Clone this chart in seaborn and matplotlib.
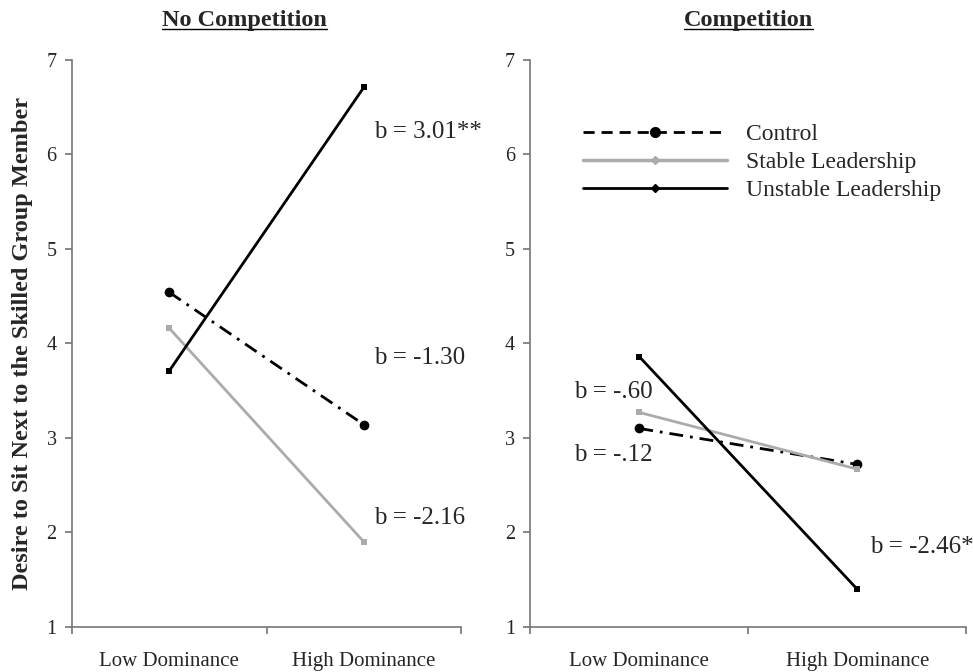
import numpy as np
import pandas as pd
import matplotlib
matplotlib.use("Agg")
import matplotlib.pyplot as plt
import seaborn as sns
from matplotlib.lines import Line2D

panels = ["No Competition", "Competition"]
levels = ["Low Dominance", "High Dominance"]
conditions = ["Control", "Stable Leadership", "Unstable Leadership"]

# values: [low, high]
no_comp_control = [4.54, 3.14]
no_comp_stable = [4.16, 1.90]
no_comp_unstable = [3.71, 6.71]
comp_control = [3.10, 2.72]
comp_stable = [3.27, 2.67]
comp_unstable = [3.86, 1.40]

slope_labels = {
    "No Competition": [("b = 3.01**", 1.55, 6.24), ("b = -1.30", 1.55, 3.85), ("b = -2.16", 1.55, 2.15)],
    "Competition": [("b = -.60", 0.20, 3.49), ("b = -.12", 0.20, 2.82), ("b = -2.46*", 1.56, 1.85)],
}

rows = []
for panel, vals in zip(panels, [[no_comp_control, no_comp_stable, no_comp_unstable],
                                [comp_control, comp_stable, comp_unstable]]):
    for cond, v in zip(conditions, vals):
        for i, lvl in enumerate(levels):
            rows.append({"panel": panel, "cond": cond, "level": lvl, "pos": i + 0.5, "value": v[i]})
df = pd.DataFrame(rows)

sns.set_theme(style="white")
plt.rcParams["font.family"] = ["Liberation Serif", "DejaVu Serif"]

palette = {"Control": "black", "Stable Leadership": "#ababab", "Unstable Leadership": "black"}
dashes = {"Control": (5, 2.5, 1, 2.5), "Stable Leadership": "", "Unstable Leadership": ""}
markers = {"Control": "o", "Stable Leadership": "s", "Unstable Leadership": "s"}

fig = plt.figure(figsize=(9.73, 6.72), dpi=100)
ax1 = fig.add_axes([0.074, 0.067, 0.40, 0.844])
ax2 = fig.add_axes([0.545, 0.067, 0.448, 0.844])

for ax, panel in zip([ax1, ax2], panels):
    sub = df[df.panel == panel]
    for cond in conditions:
        d = sub[sub.cond == cond]
        sns.lineplot(data=d, x="pos", y="value", color=palette[cond], linewidth=2,
                     marker=markers[cond], markersize=7 if cond == "Control" else 4.5,
                     markeredgewidth=0, dashes=False, ax=ax, legend=False)
        if dashes[cond]:
            ax.lines[-1].set_dashes(dashes[cond])
    ax.set_xlim(0, 2)
    ax.set_ylim(1, 7)
    ax.set_yticks(range(1, 8))
    ax.set_xticks([0, 1, 2])
    ax.set_xticklabels([])
    ax.set_xticks([0.5, 1.5], minor=True)
    ax.set_xticklabels(levels, minor=True, fontsize=15)
    ax.tick_params(axis="x", which="minor", length=0, pad=18)
    ax.tick_params(axis="x", which="major", direction="out", length=5, color="#777777", bottom=True)
    ax.tick_params(axis="y", direction="out", length=5, color="#777777", left=True, labelsize=14.5, pad=6)
    ax.set_xlabel("")
    ax.set_ylabel("")
    for s in ["top", "right"]:
        ax.spines[s].set_visible(False)
    for s in ["left", "bottom"]:
        ax.spines[s].set_color("#777777")
        ax.spines[s].set_linewidth(1.2)
    for txt, x, y in slope_labels[panel]:
        ax.text(x, y, txt, fontsize=18, va="center", ha="left")

ax1.set_ylabel("Desire to Sit Next to the Skilled Group Member", fontsize=17.5, fontweight="bold", labelpad=10)

# titles with underline
fig.canvas.draw()
renderer = fig.canvas.get_renderer()
for cx, panel in zip([0.251, 0.769], panels):
    t = fig.text(cx, 0.970, panel, ha="center", va="center", fontsize=17.5, fontweight="bold")
    bb = t.get_window_extent(renderer).transformed(fig.transFigure.inverted())
    fig.add_artist(Line2D([bb.x0, bb.x1], [bb.y0 + 0.002, bb.y0 + 0.002], color="black", linewidth=1))

handles = [
    Line2D([], [], color="black", linewidth=2, dashes=(4, 2.5), marker="o", markersize=7, markevery=[0, -1]),
    Line2D([], [], color="#ababab", linewidth=2.5, marker="D", markersize=4.5, markevery=[0, -1]),
    Line2D([], [], color="black", linewidth=2, marker="D", markersize=4.5, markevery=[0, -1]),
]
ax2.legend(handles, conditions, loc="upper left", bbox_to_anchor=(0.12, 0.888), frameon=False,
           fontsize=17, handlelength=6.1, handletextpad=0.8, labelspacing=0.28,
           borderpad=0, borderaxespad=0)

fig.savefig("out.png", dpi=100)
